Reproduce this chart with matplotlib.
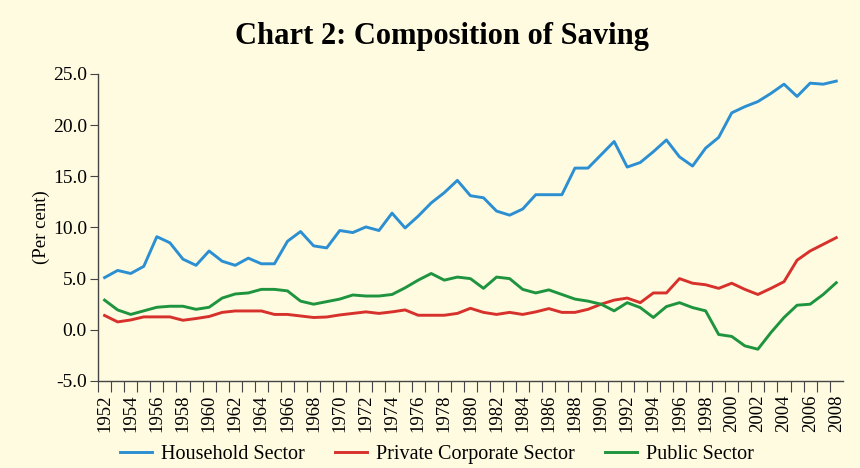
import numpy as np
import matplotlib
matplotlib.use("Agg")
import matplotlib.pyplot as plt

years = list(range(1952, 2009))

household = [5.1, 5.8, 5.5, 6.2, 9.1, 8.5, 6.9, 6.3, 7.7, 6.7,
             6.3, 7.0, 6.45, 6.45, 8.65, 9.6, 8.2, 8.0, 9.7, 9.5,
             10.05, 9.7, 11.4, 9.95, 11.1, 12.4, 13.4, 14.6, 13.1, 12.9,
             11.6, 11.2, 11.8, 13.2, 13.2, 13.2, 15.8, 15.8, 17.1, 18.4,
             15.9, 16.35, 17.4, 18.55, 16.9, 16.0, 17.75, 18.8, 21.2, 21.8,
             22.3, 23.1, 24.0, 22.8, 24.1, 24.0, 24.3]

private_corp = [1.4, 0.77, 0.96, 1.26, 1.26, 1.26, 0.93, 1.1, 1.3, 1.7,
                1.84, 1.84, 1.84, 1.5, 1.5, 1.35, 1.2, 1.25, 1.45, 1.6,
                1.75, 1.6, 1.75, 1.94, 1.42, 1.42, 1.42, 1.6, 2.1, 1.7,
                1.5, 1.7, 1.5, 1.75, 2.07, 1.7, 1.7, 2.0, 2.5, 2.9,
                3.1, 2.65, 3.6, 3.6, 5.0, 4.55, 4.4, 4.05, 4.55, 3.95,
                3.45, 4.05, 4.7, 6.8, 7.7, 8.35, 9.0]

public = [2.9, 1.94, 1.5, 1.85, 2.2, 2.3, 2.3, 2.0, 2.2, 3.1,
          3.5, 3.6, 3.95, 3.95, 3.8, 2.8, 2.5, 2.75, 3.0, 3.4,
          3.3, 3.3, 3.45, 4.1, 4.85, 5.5, 4.85, 5.15, 5.0, 4.05,
          5.15, 5.0, 3.95, 3.6, 3.9, 3.45, 3.0, 2.8, 2.5, 1.85,
          2.65, 2.17, 1.2, 2.27, 2.65, 2.17, 1.85, -0.46, -0.65, -1.57,
          -1.9, -0.27, 1.2, 2.4, 2.5, 3.45, 4.6]

bg = '#fffbe1'
serif = ['Liberation Serif', 'DejaVu Serif']

fig = plt.figure(figsize=(8.6, 4.68), dpi=100, facecolor=bg)
ax = fig.add_axes([0.114, 0.186, 0.866, 0.656], facecolor=bg)

x = np.arange(len(years))
ax.plot(x, household, color='#2b8fd1', lw=2.1, label='Household Sector')
ax.plot(x, private_corp, color='#d7312c', lw=2.1, label='Private Corporate Sector')
ax.plot(x, public, color='#1f943f', lw=2.1, label='Public Sector')

ax.set_xlim(-0.5, len(years) - 0.5)
ax.set_ylim(-5, 25)
ax.set_yticks(np.arange(-5, 26, 5))
ax.set_yticklabels([f'{v:.1f}' for v in np.arange(-5, 26, 5)], family=serif, fontsize=14)

# tick marks sit between the years, labels under every second year
ax.set_xticks(x - 0.5, minor=False)
ax.set_xticklabels([])
ax.set_xticks(x[::2], minor=True)
ax.set_xticklabels([str(y) for y in years[::2]], minor=True, rotation=90,
                   family=serif, fontsize=13.5)
ax.tick_params(axis='x', which='major', length=8, direction='out', color='#444444')
ax.tick_params(axis='x', which='minor', length=0, pad=10)
ax.tick_params(axis='y', length=6, color='#444444', pad=2)

for s in ['top', 'right']:
    ax.spines[s].set_visible(False)
for s in ['left', 'bottom']:
    ax.spines[s].set_color('#444444')
    ax.spines[s].set_linewidth(1.0)

ax.set_ylabel('(Per cent)', family=serif, fontsize=13.5, labelpad=2)
fig.text(0.514, 0.922, 'Chart 2: Composition of Saving', ha='center', va='center',
         family=serif, fontsize=22, fontweight='bold')

fig.legend(loc='lower center', bbox_to_anchor=(0.508, -0.03), ncol=3, frameon=False,
           prop={'family': serif, 'size': 14.5}, handlelength=1.6, columnspacing=1.5,
           handletextpad=0.45)

fig.savefig('out.png', dpi=100, facecolor=bg)
